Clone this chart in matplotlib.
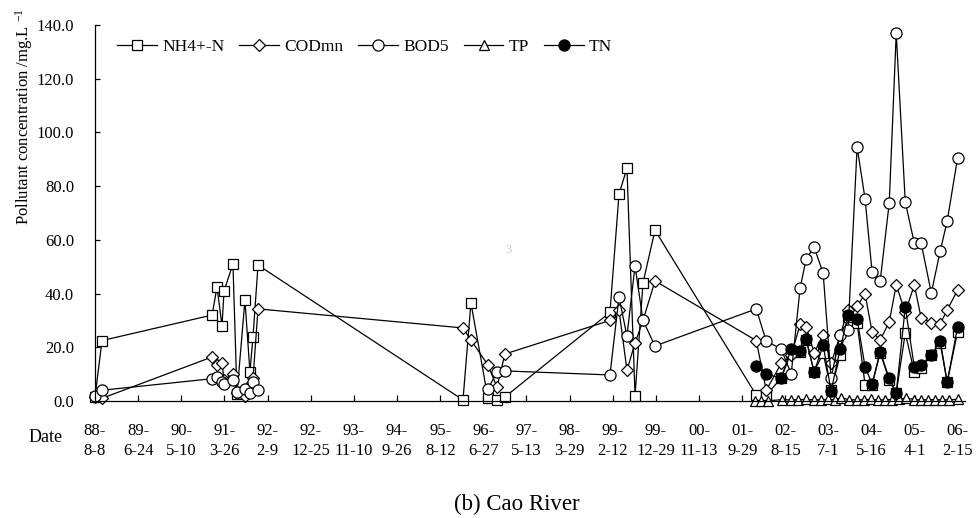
import numpy as np
import pandas as pd
import matplotlib
matplotlib.use('Agg')
import matplotlib.pyplot as plt

plt.rcParams['font.family'] = ['Liberation Serif', 'DejaVu Serif']
plt.rcParams['mathtext.fontset'] = 'custom'
plt.rcParams['mathtext.rm'] = 'Liberation Serif'
plt.rcParams['mathtext.it'] = 'Liberation Serif:italic'

# sampling dates shared by NH4+-N, CODmn and BOD5
sample_dates = [
    '1988-08-08', '1988-09-29', '1990-12-24', '1991-01-30', '1991-03-08', '1991-03-23',
    '1991-05-28', '1991-06-27', '1991-08-25', '1991-10-01', '1991-10-24', '1991-11-30',
    '1996-01-28', '1996-03-27', '1996-07-31', '1996-10-06', '1996-12-04',
    '1999-01-22', '1999-03-30', '1999-05-28', '1999-07-27', '1999-09-24', '1999-12-22',
    '2002-01-11', '2002-03-26', '2002-07-15', '2002-09-27', '2002-12-02', '2003-01-16',
    '2003-03-16', '2003-05-22', '2003-07-20', '2003-09-25', '2003-11-23', '2004-01-29',
    '2004-03-28', '2004-05-19', '2004-07-18', '2004-09-23', '2004-11-14', '2005-01-20',
    '2005-03-28', '2005-05-18', '2005-08-01', '2005-10-06', '2005-11-27', '2006-02-12',
]

nh4 = [1.5, 22.5, 32.0, 42.4, 28.0, 41.0, 51.0, 2.6, 37.6, 10.8, 24.0, 50.6,
       0.4, 36.5, 1.1, 0.4, 1.5,
       33.0, 77.0, 86.7, 2.0, 44.0, 63.6,
       2.2, 2.2, 8.5, 18.3, 18.3, 22.7, 10.8, 17.9, 4.0, 17.0, 31.3, 29.0,
       6.0, 6.0, 18.0, 7.8, 3.0, 25.3, 10.8, 12.3, 17.0, 21.6, 7.0, 25.8]

cod = [1.5, 1.0, 16.4, 13.5, 14.0, 8.0, 10.0, 3.0, 2.0, 6.0, 8.5, 34.3,
       27.2, 22.7, 13.4, 5.2, 17.5,
       30.0, 33.8, 11.5, 21.6, 30.0, 44.7,
       22.5, 4.0, 14.0, 17.0, 28.5, 27.5, 18.0, 24.5, 14.0, 24.5, 34.0, 35.4,
       39.8, 25.7, 22.7, 29.4, 43.2, 33.0, 43.2, 30.9, 29.2, 28.7, 33.9, 41.3]

bod = [1.9, 4.0, 8.3, 8.9, 7.0, 6.5, 8.0, 3.5, 4.5, 3.0, 7.0, 4.0,
       np.nan, np.nan, 4.4, 10.8, 11.2,
       9.7, 38.7, 24.2, 50.3, 30.0, 20.5,
       34.3, 22.3, 19.4, 10.0, 42.0, 52.9, 57.3, 47.6, 8.6, 24.6, 26.4, 94.6,
       75.2, 48.0, 44.7, 73.7, 137.0, 74.1, 58.8, 58.8, 40.2, 55.8, 67.0, 90.5]

tn_dates = sample_dates[23:]
tn = [13.0, 10.0, 8.5, 19.5, 18.6, 23.2, 10.8, 20.8, 3.7, 19.4, 32.0, 30.5,
      12.7, 6.3, 18.4, 8.4, 3.0, 35.0, 12.7, 13.4, 17.0, 22.4, 7.0, 27.6]

tp_dates = [
    '2002-01-03', '2002-02-17', '2002-04-10', '2002-07-23', '2002-09-27', '2002-11-17',
    '2003-01-16', '2003-03-16', '2003-05-07', '2003-06-28', '2003-08-19', '2003-10-02',
    '2003-11-30', '2004-01-29', '2004-03-21', '2004-05-12', '2004-07-03', '2004-08-24',
    '2004-10-15', '2004-12-06', '2005-01-27', '2005-03-28', '2005-05-18', '2005-07-09',
    '2005-08-30', '2005-10-21', '2005-12-12', '2006-02-12',
]
tp = [0.1, 0.1, 0.1, 0.5, 0.4, 0.5, 0.6, 0.4, 0.5, 0.6, 0.5, 1.2,
      0.5, 0.4, 0.5, 0.6, 0.4, 0.5, 0.5, 0.6, 1.2, 0.5, 0.4, 0.5,
      0.5, 0.4, 0.5, 0.6]

tick_dates = ['1988-08-08', '1989-06-24', '1990-05-10', '1991-03-26', '1992-02-09',
              '1992-12-25', '1993-11-10', '1994-09-26', '1995-08-12', '1996-06-27',
              '1997-05-13', '1998-03-29', '1999-02-12', '1999-12-29', '2000-11-13',
              '2001-09-29', '2002-08-15', '2003-07-01', '2004-05-16', '2005-04-01',
              '2006-02-15']
tick_labels = ['88-\n8-8', '89-\n6-24', '90-\n5-10', '91-\n3-26', '92-\n2-9',
               '92-\n12-25', '93-\n11-10', '94-\n9-26', '95-\n8-12', '96-\n6-27',
               '97-\n5-13', '98-\n3-29', '99-\n2-12', '99-\n12-29', '00-\n11-13',
               '01-\n9-29', '02-\n8-15', '03-\n7-1', '04-\n5-16', '05-\n4-1',
               '06-\n2-15']

W, H = 977, 518
fig = plt.figure(figsize=(W / 100, H / 100), dpi=100)
ax = fig.add_axes([95 / W, 1 - 401 / H, (965 - 95) / W, (401 - 25) / H])

x = pd.to_datetime(sample_dates)
style = dict(color='black', linewidth=0.9, markeredgewidth=0.9, clip_on=False)

ax.plot(x, nh4, marker='s', markersize=7.5, markerfacecolor='white', label='NH4+-N', **style)
ax.plot(x, cod, marker='D', markersize=6.5, markerfacecolor='white', label='CODmn', **style)
ax.plot(x, bod, marker='o', markersize=8, markerfacecolor='white', label='BOD5', **style)
ax.plot(pd.to_datetime(tp_dates), tp, marker='^', markersize=7.5, markerfacecolor='white',
        label='TP', **style)
ax.plot(pd.to_datetime(tn_dates), tn, marker='o', markersize=8, markerfacecolor='black',
        label='TN', **style)

ax.set_xlim(pd.Timestamp('1988-08-08'), pd.Timestamp('2006-04-08'))
ax.set_ylim(0, 140)
ax.set_yticks(np.arange(0, 141, 20))
ax.set_yticklabels([f'{v:.1f}' for v in np.arange(0, 141, 20)])
ax.set_xticks(pd.to_datetime(tick_dates))
ax.set_xticklabels(tick_labels, linespacing=1.3)

for s in ['top', 'right']:
    ax.spines[s].set_visible(False)
for s in ['left', 'bottom']:
    ax.spines[s].set_linewidth(0.9)

ax.tick_params(axis='y', direction='in', length=3.5, width=0.9, pad=15, labelsize=12)
ax.tick_params(axis='x', direction='in', length=4, width=0.9, pad=16, labelsize=12)

leg = ax.legend(loc='center left', bbox_to_anchor=(117 / W, 1 - 47 / H),
                bbox_transform=fig.transFigure, ncol=5, frameon=False, fontsize=12.5,
                handlelength=2.3, handletextpad=0.29, columnspacing=0.86,
                borderpad=0, borderaxespad=0)

fig.text(24 / W, 1 - 8 / H, 'Pollutant concentration /mg.L $^{-1}$', rotation=90,
         ha='center', va='top', fontsize=12)
fig.text(46 / W, 1 - 437 / H, 'Date', ha='center', va='center', fontsize=13)
fig.text(517 / W, 1 - 504 / H, '(b) Cao River', ha='center', va='center', fontsize=16.5)
fig.text(508 / W, 1 - 250 / H, '3', ha='center', va='center', fontsize=9, color='#c8c8c8')

fig.savefig('out.png', dpi=100)
